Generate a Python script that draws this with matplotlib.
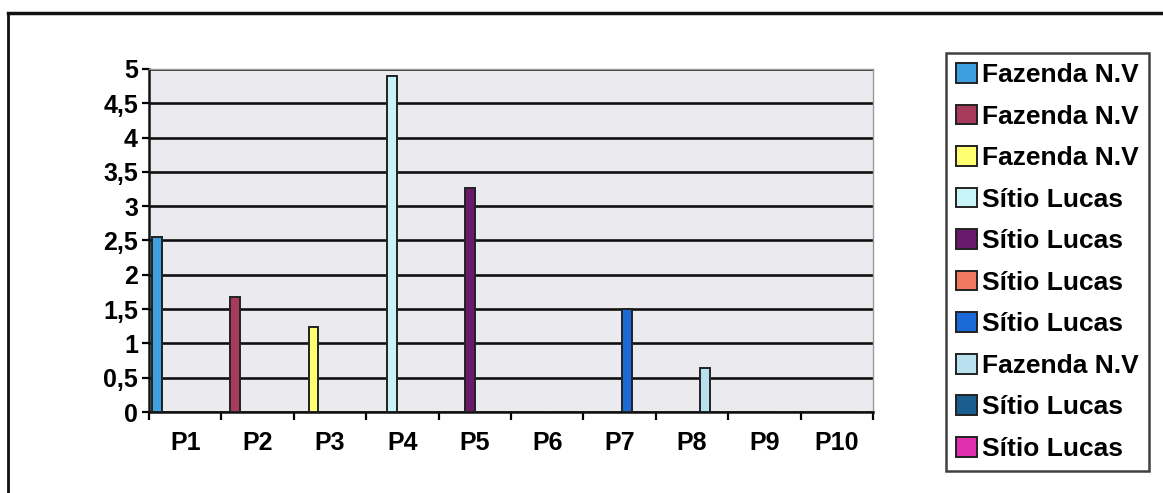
import numpy as np
import matplotlib
matplotlib.use("Agg")
import matplotlib.pyplot as plt
from matplotlib.lines import Line2D

# points along the transect and one value per series (series i only has point i)
categories = ["P1", "P2", "P3", "P4", "P5", "P6", "P7", "P8", "P9", "P10"]
series_names = ["Fazenda N.V", "Fazenda N.V", "Fazenda N.V", "Sítio Lucas",
                "Sítio Lucas", "Sítio Lucas", "Sítio Lucas", "Fazenda N.V",
                "Sítio Lucas", "Sítio Lucas"]
values = [2.55, 1.67, 1.24, 4.9, 3.26, 0, 1.5, 0.64, 0, 0]
colors = ["#3d9ee0", "#a83a5c", "#ffff70", "#c8f4f8", "#6a1a6a",
          "#f07860", "#1a6ad8", "#b8e0ee", "#1a5e90", "#e030b0"]
yticks = [0, 0.5, 1, 1.5, 2, 2.5, 3, 3.5, 4, 4.5, 5]
ytick_labels = ["0", "0,5", "1", "1,5", "2", "2,5", "3", "3,5", "4", "4,5", "5"]

plt.rcParams['font.family'] = ['Liberation Sans', 'DejaVu Sans']
plt.rcParams['font.weight'] = 'bold'

W, H = 1163, 493
fig = plt.figure(figsize=(W / 100, H / 100), dpi=100)
fig.patch.set_facecolor("white")

ax = fig.add_axes([149 / W, 1 - 412 / H, (873 - 149) / W, (412 - 69) / H])
ax.set_facecolor("#ebebef")

n = len(series_names)
slot = 0.0815
bar_w = 0.135
x = np.arange(len(categories))
handles = []
for i in range(n):
    # each series sits in its own slot inside the cluster
    offset = -0.39 + i * slot
    h = ax.bar(x[i] + offset, values[i], width=bar_w, color=colors[i],
               edgecolor="#222222", linewidth=1.4, zorder=3,
               label=series_names[i])
    handles.append(h)

ax.set_ylim(0, 5)
ax.set_xlim(-0.5, len(categories) - 0.5)
ax.set_yticks(yticks)
ax.set_yticklabels(ytick_labels, fontsize=18, fontweight='bold')
ax.yaxis.grid(True, color="#111111", linewidth=1.9, zorder=1)
ax.set_axisbelow(True)

ax.set_xticks(x)
ax.set_xticklabels(categories, fontsize=18, fontweight='bold')
ax.set_xticks(np.arange(-0.5, len(categories)), minor=True)
ax.tick_params(axis='x', which='major', length=0, pad=14)
ax.tick_params(axis='x', which='minor', length=6, width=1.6, direction='out')
ax.tick_params(axis='y', length=5, width=1.6, direction='out', pad=3)

for side in ("top", "right"):
    ax.spines[side].set_color("#9a9a9a")
    ax.spines[side].set_linewidth(1.0)
for side in ("left", "bottom"):
    ax.spines[side].set_color("#111111")
    ax.spines[side].set_linewidth(1.8)

leg = fig.legend(handles=handles, loc="upper left",
                 bbox_to_anchor=(946 / W, 1 - 53 / H),
                 prop={'weight': 'bold', 'size': 19},
                 frameon=True, fancybox=False, edgecolor="#111111",
                 handlelength=0.78, handleheight=0.78, handletextpad=0.22,
                 labelspacing=0.66, borderpad=0.38, borderaxespad=0)
leg.get_frame().set_linewidth(1.8)

# outer chart frame (left and top edges visible)
fig.add_artist(Line2D([8 / W, 8 / W], [0, 1 - 13 / H], transform=fig.transFigure,
                      color="#111111", linewidth=2))
fig.add_artist(Line2D([8 / W, 1], [1 - 13 / H, 1 - 13 / H], transform=fig.transFigure,
                      color="#111111", linewidth=2.5))

fig.savefig("out.png", dpi=100)
